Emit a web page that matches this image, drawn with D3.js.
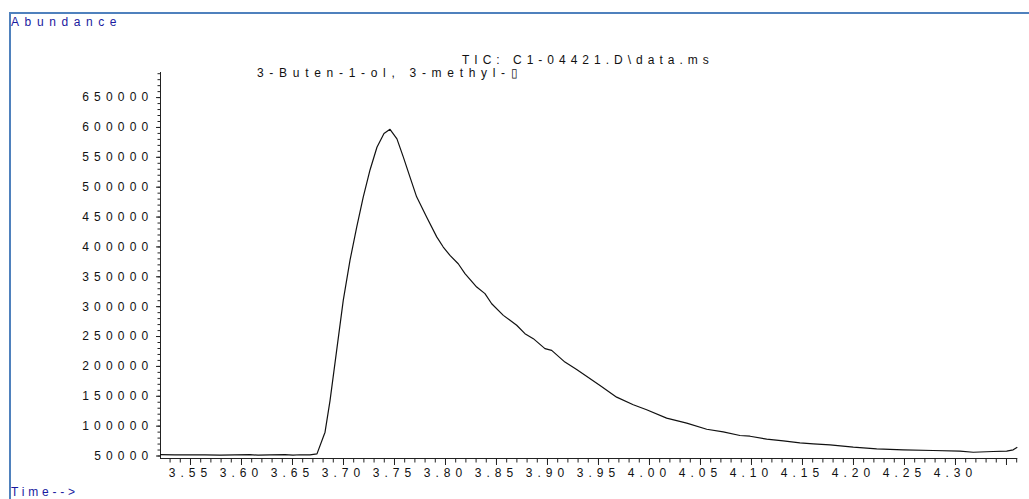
<!DOCTYPE html>
<html>
<head>
<meta charset="utf-8">
<script src="https://cdn.jsdelivr.net/npm/d3@7"></script>
<style>
  html, body { margin: 0; padding: 0; background: #fff; }
  svg { display: block; }
  text { font-family: "Liberation Sans", Arial, sans-serif; }
</style>
</head>
<body>
<svg id="chart" width="1029" height="499"></svg>
<script>
// Total ion chromatogram: retention time (min) and abundance per scan
const times = [
  3.5206, 3.5353, 3.5500, 3.5647, 3.5794, 3.5941, 3.6088, 3.6167, 3.6284, 3.6431,
  3.6510, 3.6578, 3.6676, 3.6745, 3.6824, 3.6873, 3.6938, 3.7003, 3.7069, 3.7134,
  3.7199, 3.7265, 3.7333, 3.7402, 3.7461, 3.7529, 3.7591, 3.7657, 3.7722, 3.7821,
  3.7919, 3.7983, 3.8049, 3.8130, 3.8196, 3.8311, 3.8392, 3.8458, 3.8572, 3.8703,
  3.8784, 3.8866, 3.8980, 3.9046, 3.9176, 3.9291, 3.9520, 3.9683, 3.9846, 3.9977,
  4.0173, 4.0370, 4.0566, 4.0728, 4.0892, 4.0990, 4.1154, 4.1317, 4.1480, 4.1611,
  4.1775, 4.2003, 4.2232, 4.2493, 4.2787, 4.3049, 4.3179, 4.3375, 4.3507, 4.3571,
  4.3611
];
const abundance = [
  51500, 51000, 51300, 51000, 50800, 51000, 51500, 50500, 51000, 51500,
  50800, 51300, 51200, 52800, 89000, 142000, 226000, 310000, 377000, 432000,
  483000, 528000, 566000, 589000, 596000, 580000, 550000, 516000, 483000, 449000,
  416000, 399000, 385000, 371000, 354500, 332000, 321000, 304000, 284600, 268000,
  254000, 245600, 229000, 226000, 206400, 194000, 167300, 147700, 135000, 126500,
  112500, 104100, 94000, 89700, 83500, 82300, 77300, 74600, 71300, 69600,
  67900, 63900, 61200, 59500, 58400, 57200, 55500, 56700, 57200, 59500,
  63900
];

// Axis ticks
const yMajorTicks = [50000, 100000, 150000, 200000, 250000, 300000, 350000,
                     400000, 450000, 500000, 550000, 600000, 650000];
const yMinorTicks = d3.range(50000, 690001, 10000);
const xLabelTicks = [3.55, 3.60, 3.65, 3.70, 3.75, 3.80, 3.85, 3.90, 3.95,
                     4.00, 4.05, 4.10, 4.15, 4.20, 4.25, 4.30];
const xMajorTicks = xLabelTicks.concat([4.35]);
const xMinorTicks = d3.range(353, 437).map(v => v / 100);

const titleText = "TIC: C1-04421.D\\data.ms";
const peakName = "3-Buten-1-ol, 3-methyl-\u25AF";
const yTitle = "Abundance";
const xTitle = "Time-->";

const svg = d3.select("#chart");

const x = d3.scaleLinear().domain([3.5206, 4.3611]).range([160, 1017.3]);
const y = d3.scaleLinear().domain([45000, 692000]).range([458.5, 72]);

// Outer frame (top and left edges)
svg.append("line").attr("x1", 9).attr("x2", 1029).attr("y1", 13).attr("y2", 13)
  .attr("stroke", "#4f81bd").attr("stroke-width", 2);
svg.append("line").attr("x1", 10).attr("x2", 10).attr("y1", 12).attr("y2", 499)
  .attr("stroke", "#4f81bd").attr("stroke-width", 2);

// Frame captions
svg.append("text").attr("x", 11).attr("y", 26)
  .attr("font-size", 12).attr("letter-spacing", 5.6).attr("fill", "#1a1aa0")
  .text(yTitle);
svg.append("text").attr("x", 11).attr("y", 496)
  .attr("font-size", 12).attr("letter-spacing", 3.8).attr("fill", "#1a1aa0")
  .text(xTitle);

// Y axis
const yAxisMinor = d3.axisLeft(y).tickValues(yMinorTicks).tickSize(3).tickFormat("");
const yAxisMajor = d3.axisLeft(y).tickValues(yMajorTicks).tickSize(4.5).tickPadding(2)
  .tickFormat(d3.format("d"));

const gyMinor = svg.append("g").attr("transform", "translate(160.5,0)").call(yAxisMinor);
gyMinor.select(".domain").remove();
const gy = svg.append("g").attr("transform", "translate(160.5,0)").call(yAxisMajor);
gy.select(".domain").attr("d", `M0,${y.range()[1]}V${y.range()[0]}`);
[gy, gyMinor].forEach(g => {
  g.selectAll("path, line").attr("stroke", "#222").attr("stroke-width", 1);
});
gy.selectAll("text")
  .attr("font-size", 12).attr("letter-spacing", 5.2).attr("fill", "#111")
  .attr("font-family", "'Liberation Sans', Arial, sans-serif")
  .attr("x", -7);

// X axis
const xAxisMinor = d3.axisBottom(x).tickValues(xMinorTicks).tickSize(4).tickFormat("");
const xAxisMajor = d3.axisBottom(x).tickValues(xMajorTicks).tickSize(6.5).tickPadding(3)
  .tickFormat(d => xLabelTicks.includes(d) ? d3.format(".2f")(d) : "");

const gxMinor = svg.append("g").attr("transform", "translate(0,458.5)").call(xAxisMinor);
gxMinor.select(".domain").remove();
const gx = svg.append("g").attr("transform", "translate(0,458.5)").call(xAxisMajor);
gx.select(".domain").attr("d", `M${x.range()[0]},0H${x.range()[1]}`);
[gx, gxMinor].forEach(g => {
  g.selectAll("path, line").attr("stroke", "#222").attr("stroke-width", 1);
});
gx.selectAll("text")
  .attr("font-size", 12).attr("letter-spacing", 5).attr("fill", "#111")
  .attr("font-family", "'Liberation Sans', Arial, sans-serif")
  .attr("y", 10);

// Chromatogram trace
const pts = times.map((t, i) => [t, abundance[i]]);
svg.append("path")
  .datum(pts)
  .attr("fill", "none")
  .attr("stroke", "#111")
  .attr("stroke-width", 1.2)
  .attr("stroke-linejoin", "round")
  .attr("d", d3.line().x(d => x(d[0])).y(d => y(d[1])));

// Header texts
svg.append("text").attr("x", 462).attr("y", 63.5)
  .attr("font-size", 12).attr("letter-spacing", 5).attr("fill", "#111")
  .text(titleText);
svg.append("text").attr("x", 257).attr("y", 77)
  .attr("font-size", 12).attr("letter-spacing", 5.7).attr("fill", "#111")
  .text(peakName);
</script>
</body>
</html>
